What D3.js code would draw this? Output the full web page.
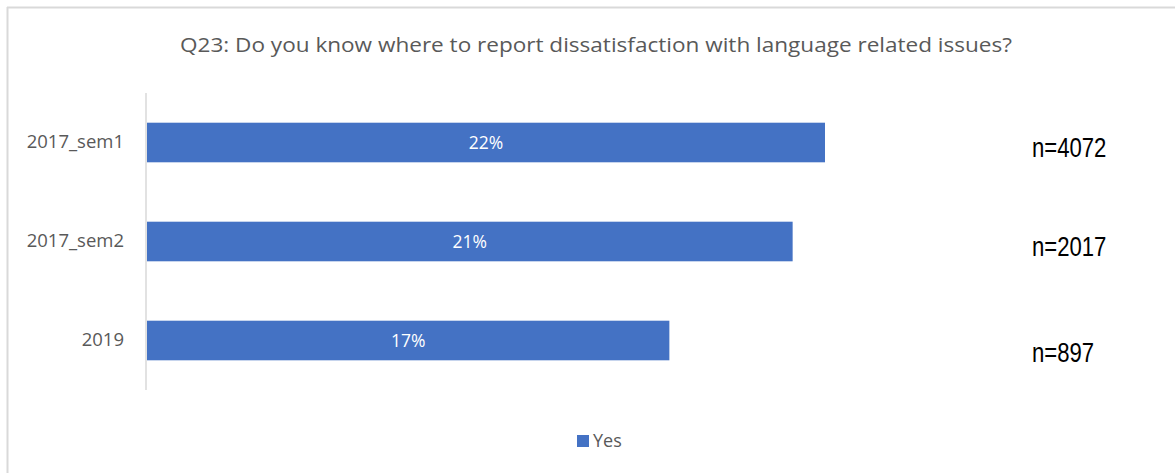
<!DOCTYPE html>
<html><head><meta charset="utf-8">
<script src="https://cdn.jsdelivr.net/npm/d3@7"></script>
<style>html,body{margin:0;padding:0;background:#fff;}</style>
</head><body>
<script>
const categories = ["2017_sem1", "2017_sem2", "2019"];
const values = [0.22, 0.2095, 0.1695];
const valueLabels = ["22%", "21%", "17%"];
const nLabels = ["n=4072", "n=2017", "n=897"];
const seriesName = "Yes";
const title = "Q23: Do you know where to report dissatisfaction with language related issues?";

const W = 1175, H = 473;
const svg = d3.select("body").append("svg").attr("width", W).attr("height", H);

// frame
svg.append("line").attr("x1", 7).attr("x2", W).attr("y1", 7.5).attr("y2", 7.5).attr("stroke", "#d9d9d9").attr("stroke-width", 2);
svg.append("line").attr("x1", 7.5).attr("x2", 7.5).attr("y1", 7).attr("y2", H).attr("stroke", "#d9d9d9").attr("stroke-width", 2);

svg.append("text").attr("x", 596).attr("y", 52).attr("text-anchor", "middle")
  .attr("font-family", "Open Sans, sans-serif").attr("font-size", 20).attr("fill", "#595959")
  .attr("textLength", 832).attr("lengthAdjust", "spacingAndGlyphs").text(title);

const x = d3.scaleLinear().domain([0, 0.3]).range([147, 147 + 0.3 * 678 / 0.22]);
const y = d3.scaleBand().domain(categories).range([93, 390]).paddingInner(0.6).paddingOuter(0.3);

svg.append("line").attr("x1", 146).attr("x2", 146).attr("y1", 93).attr("y2", 390).attr("stroke", "#d9d9d9").attr("stroke-width", 1.5);

const yAxis = d3.axisLeft(y).tickSize(0).tickPadding(0);
const ga = svg.append("g").attr("transform", "translate(124,0)").call(yAxis);
ga.select(".domain").remove();
ga.selectAll("text").attr("font-family", "Open Sans, sans-serif").attr("font-size", 18.5).attr("fill", "#595959");

svg.selectAll("rect.bar").data(values).enter().append("rect").attr("class", "bar")
  .attr("x", x(0)).attr("y", (d, i) => y(categories[i]))
  .attr("width", d => x(d) - x(0)).attr("height", y.bandwidth()).attr("fill", "#4472c4");

svg.selectAll("text.vl").data(values).enter().append("text").attr("class", "vl")
  .attr("x", d => (x(0) + x(d)) / 2).attr("y", (d, i) => y(categories[i]) + y.bandwidth() / 2)
  .attr("dy", "0.35em").attr("text-anchor", "middle")
  .attr("font-family", "Open Sans, sans-serif").attr("font-size", 17.5).attr("fill", "#fff")
  .text((d, i) => valueLabels[i]);

const nY = [147, 246, 352];
svg.selectAll("text.nl").data(nLabels).enter().append("text").attr("class", "nl")
  .attr("transform", (d, i) => `translate(1032,${nY[i]}) scale(0.79,1)`)
  .attr("dy", "0.36em")
  .attr("font-family", "Liberation Sans, Arial, sans-serif").attr("font-size", 28).attr("fill", "#000")
  .text(d => d);

svg.append("rect").attr("x", 577).attr("y", 435).attr("width", 12).attr("height", 12).attr("fill", "#4472c4");
svg.append("text").attr("x", 593).attr("y", 441).attr("dy", "0.35em")
  .attr("font-family", "Open Sans, sans-serif").attr("font-size", 18).attr("fill", "#595959").text(seriesName);
</script>
</body></html>
